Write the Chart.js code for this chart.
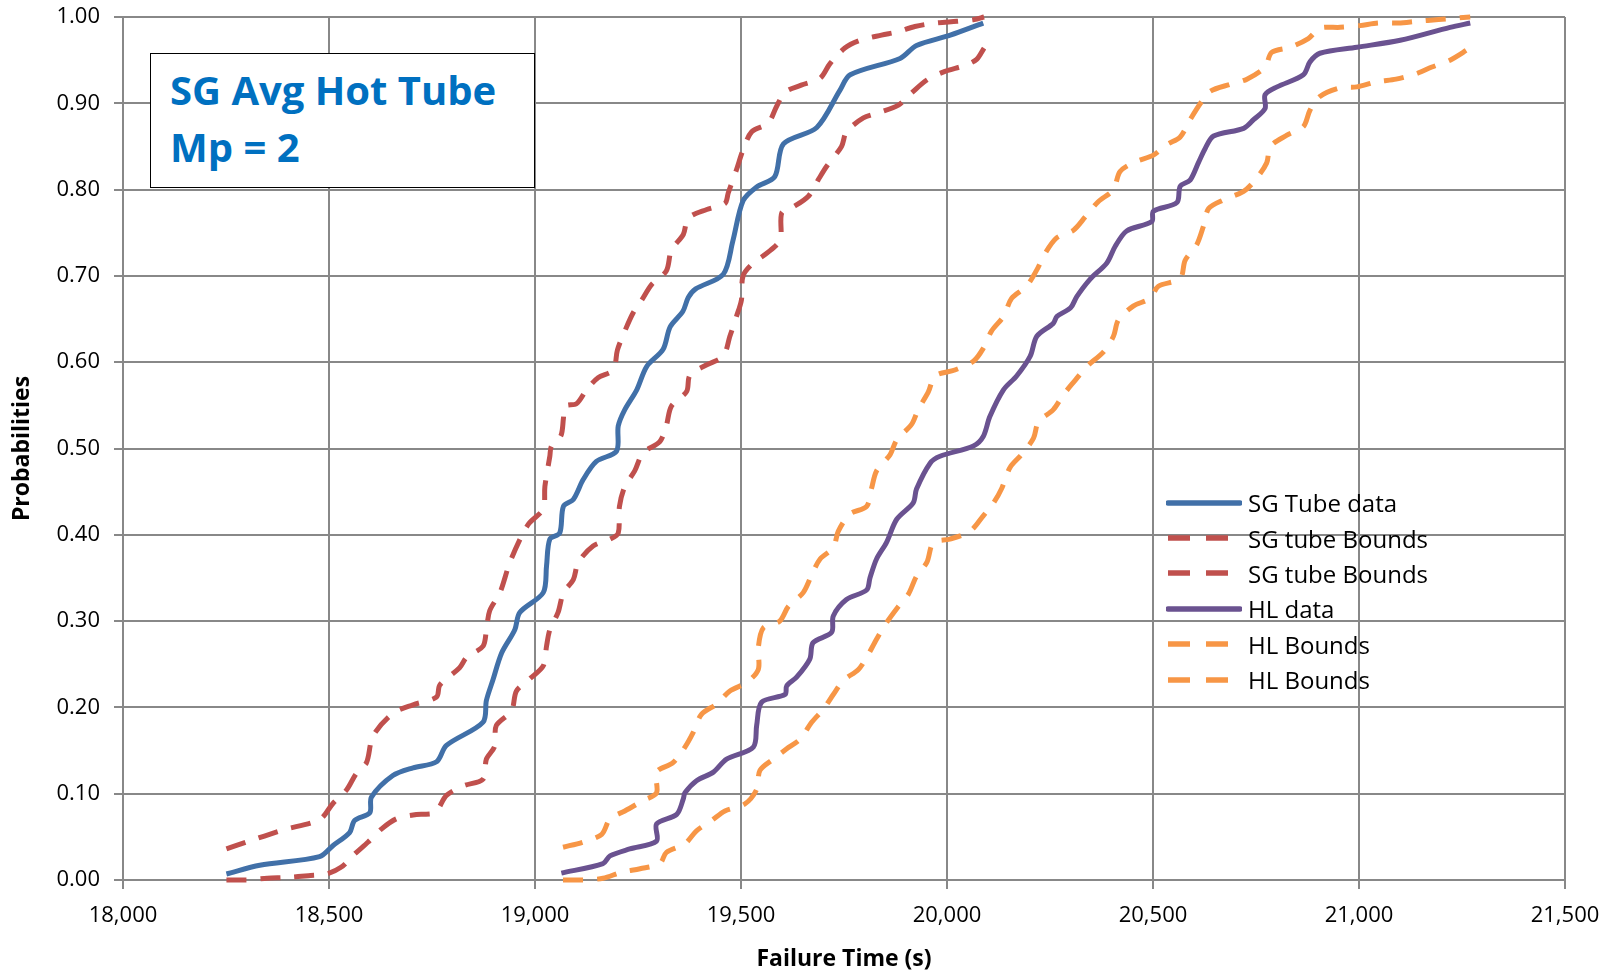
<!DOCTYPE html>
<html>
<head>
<meta charset="utf-8">
<script src="https://cdn.jsdelivr.net/npm/chart.js@4.4.1/dist/chart.umd.min.js"></script>
<style>
  html, body { margin:0; padding:0; background:#fff; }
  #wrap { position:relative; width:1612px; height:971px; overflow:hidden; }
  #c { position:absolute; left:0; top:0; }
  #titleBox { position:absolute; left:150px; top:53px; border:1.6px solid #000; background:#fff;
    font-family:"Open Sans", sans-serif; font-weight:bold; font-size:40px; line-height:57px; color:#0070C0; padding:7px 0 0 19px; box-sizing:border-box; width:385px; height:135px; }
  #legend { position:absolute; left:1166px; top:485px; font-family:"Open Sans", sans-serif; font-size:24px; color:#000; }
  .row { display:flex; align-items:center; height:35.4px; }
  .row svg { width:76px; height:10px; margin-right:6px; }
</style>
</head>
<body>
<div id="wrap">
  <canvas id="c" width="1612" height="971"></canvas>
  <div id="titleBox"><div>SG Avg Hot Tube</div><div>Mp = 2</div></div>
  <div id="legend"></div>
</div>
<script>
// ---- Data ----
const sgDataX = [18251,18332,18477,18510,18550,18562,18599,18603,18655,18704,18761,18785,18874,18882,18898,18919,18951,18963,19020,19028,19036,19060,19069,19093,19117,19149,19198,19202,19218,19247,19271,19311,19328,19359,19372,19390,19457,19480,19505,19538,19582,19603,19684,19740,19765,19886,19926,20008,20088];
const sgDataY = [0.007,0.017,0.027,0.040,0.055,0.069,0.078,0.096,0.121,0.130,0.137,0.156,0.183,0.208,0.232,0.263,0.290,0.310,0.333,0.364,0.395,0.402,0.433,0.441,0.464,0.485,0.497,0.526,0.545,0.568,0.595,0.615,0.641,0.659,0.675,0.685,0.702,0.740,0.787,0.803,0.815,0.853,0.872,0.915,0.933,0.952,0.967,0.979,0.993];

const sgUpperX = [18251,18300,18388,18477,18510,18542,18567,18591,18607,18655,18704,18761,18769,18817,18834,18874,18882,18890,18915,18939,18971,18987,19020,19024,19036,19040,19063,19069,19073,19101,19125,19153,19190,19200,19218,19238,19259,19283,19319,19331,19360,19372,19417,19461,19469,19489,19505,19526,19566,19586,19607,19646,19692,19716,19752,19789,19841,19882,19922,19971,20024,20066,20090];
const sgUpperY = [0.036,0.044,0.058,0.070,0.089,0.104,0.124,0.136,0.167,0.193,0.203,0.212,0.226,0.246,0.258,0.271,0.290,0.312,0.333,0.368,0.402,0.414,0.430,0.456,0.491,0.503,0.515,0.535,0.549,0.552,0.568,0.582,0.591,0.614,0.636,0.657,0.672,0.690,0.706,0.730,0.748,0.767,0.777,0.784,0.796,0.823,0.846,0.867,0.877,0.896,0.913,0.921,0.929,0.946,0.964,0.973,0.979,0.983,0.989,0.993,0.995,0.997,1.000];

const sgLowerX = [18251,18300,18350,18400,18450,18494,18530,18562,18595,18627,18664,18712,18757,18785,18826,18874,18882,18902,18906,18943,18955,18987,19020,19028,19036,19056,19069,19093,19105,19141,19182,19202,19205,19218,19242,19262,19303,19319,19331,19368,19376,19417,19457,19473,19489,19501,19505,19530,19562,19595,19599,19627,19663,19687,19708,19744,19756,19797,19833,19882,19914,19951,19995,20044,20072,20090];
const sgLowerY = [0,0,0.002,0.003,0.005,0.007,0.015,0.030,0.044,0.059,0.071,0.076,0.078,0.098,0.109,0.117,0.140,0.155,0.179,0.196,0.219,0.233,0.248,0.271,0.290,0.310,0.333,0.348,0.368,0.387,0.395,0.402,0.433,0.456,0.474,0.495,0.508,0.527,0.549,0.566,0.585,0.597,0.607,0.630,0.653,0.672,0.700,0.715,0.726,0.742,0.773,0.780,0.792,0.811,0.827,0.850,0.867,0.883,0.889,0.898,0.912,0.927,0.937,0.944,0.951,0.964];

const hlDataX = [19064,19165,19182,19230,19295,19295,19344,19360,19364,19392,19433,19465,19530,19538,19550,19607,19611,19635,19667,19675,19720,19724,19756,19805,19813,19829,19853,19878,19918,19926,19959,19983,20064,20088,20104,20137,20169,20202,20218,20258,20267,20300,20315,20347,20388,20408,20436,20497,20501,20558,20566,20590,20610,20627,20647,20720,20744,20772,20772,20801,20865,20881,20905,20995,21100,21221,21270];
const hlDataY = [0.008,0.019,0.028,0.036,0.045,0.065,0.076,0.094,0.101,0.115,0.125,0.140,0.154,0.179,0.206,0.215,0.225,0.235,0.256,0.275,0.287,0.306,0.325,0.336,0.350,0.372,0.391,0.418,0.437,0.453,0.483,0.491,0.503,0.514,0.537,0.568,0.584,0.607,0.630,0.645,0.653,0.663,0.676,0.696,0.715,0.734,0.752,0.763,0.775,0.785,0.804,0.811,0.831,0.848,0.862,0.871,0.881,0.894,0.910,0.919,0.933,0.948,0.958,0.965,0.973,0.988,0.993];

const hlUpperX = [19068,19117,19162,19182,19218,19262,19295,19295,19335,19364,19384,19404,19441,19473,19514,19542,19542,19554,19594,19615,19651,19672,19692,19724,19736,19764,19805,19817,19829,19862,19878,19914,19930,19955,19971,20019,20064,20088,20108,20137,20157,20193,20218,20238,20266,20307,20335,20367,20404,20420,20456,20501,20533,20566,20590,20618,20639,20687,20728,20772,20788,20833,20877,20905,20954,21002,21047,21096,21141,21193,21270];
const hlUpperY = [0.038,0.044,0.053,0.071,0.080,0.092,0.101,0.125,0.136,0.154,0.171,0.192,0.204,0.219,0.229,0.244,0.269,0.292,0.300,0.317,0.333,0.354,0.372,0.385,0.404,0.424,0.433,0.454,0.474,0.493,0.510,0.528,0.545,0.566,0.584,0.591,0.601,0.616,0.636,0.653,0.674,0.688,0.707,0.726,0.744,0.753,0.768,0.786,0.800,0.821,0.832,0.840,0.852,0.861,0.881,0.902,0.914,0.922,0.928,0.942,0.959,0.965,0.975,0.987,0.988,0.990,0.993,0.993,0.995,0.997,1.000];

const hlLowerX = [19068,19117,19165,19210,19255,19303,19319,19364,19392,19429,19461,19509,19538,19546,19578,19611,19643,19672,19700,19724,19748,19785,19805,19829,19850,19882,19906,19926,19951,19967,20007,20056,20088,20113,20133,20153,20181,20210,20222,20258,20282,20311,20339,20380,20404,20416,20452,20493,20513,20566,20578,20606,20622,20635,20671,20720,20748,20776,20785,20825,20865,20881,20905,20954,20995,21043,21090,21138,21177,21221,21266];
const hlLowerY = [0,0,0.002,0.009,0.013,0.019,0.032,0.042,0.057,0.069,0.080,0.088,0.105,0.127,0.140,0.152,0.163,0.183,0.198,0.215,0.231,0.244,0.258,0.279,0.296,0.317,0.331,0.352,0.368,0.391,0.395,0.404,0.422,0.437,0.454,0.478,0.493,0.512,0.531,0.545,0.562,0.579,0.595,0.612,0.630,0.649,0.665,0.674,0.688,0.697,0.718,0.736,0.757,0.778,0.788,0.798,0.811,0.831,0.850,0.863,0.873,0.892,0.908,0.918,0.919,0.925,0.928,0.934,0.942,0.950,0.963];

const seriesLabels = ['SG Tube data','SG tube Bounds','SG tube Bounds','HL data','HL Bounds','HL Bounds'];
const xTickMin = 18000, xTickMax = 21500, xTickStep = 500;
const yTickMin = 0, yTickMax = 1, yTickStep = 0.1;
const xAxisTitle = 'Failure Time (s)';
const yAxisTitle = 'Probabilities';

// ---- Build datasets ----
function pts(xs, ys) { return xs.map((x, i) => ({ x: x, y: ys[i] })); }
const BLUE = '#4170A8', RED = '#C0504D', PURPLE = '#6A5290', ORANGE = '#F79646';
const DASH = [20, 14];
const specs = [
  { xs: sgDataX,  ys: sgDataY,  color: BLUE,   dash: [] },
  { xs: sgUpperX, ys: sgUpperY, color: RED,    dash: DASH },
  { xs: sgLowerX, ys: sgLowerY, color: RED,    dash: DASH },
  { xs: hlDataX,  ys: hlDataY,  color: PURPLE, dash: [] },
  { xs: hlUpperX, ys: hlUpperY, color: ORANGE, dash: DASH },
  { xs: hlLowerX, ys: hlLowerY, color: ORANGE, dash: DASH }
];
const datasets = specs.map((s, i) => ({
  label: seriesLabels[i],
  data: pts(s.xs, s.ys),
  borderColor: s.color,
  backgroundColor: s.color,
  borderWidth: 5,
  borderDash: s.dash,
  borderCapStyle: 'butt',
  borderJoinStyle: 'round',
  pointRadius: 0,
  tension: 0.3,
  fill: false,
  clip: false
}));

const GRID = '#888888';
const tickFont = { family: 'Open Sans', size: 22 };
const titleFont = { family: 'Open Sans', size: 23, weight: 'bold', lineHeight: 1 };

new Chart(document.getElementById('c'), {
  type: 'line',
  data: { datasets: datasets },
  options: {
    responsive: false,
    animation: false,
    devicePixelRatio: 1,
    layout: { padding: { top: 17, right: 47, left: 0, bottom: 0 } },
    plugins: { legend: { display: false }, tooltip: { enabled: false } },
    scales: {
      x: {
        type: 'linear', min: xTickMin, max: xTickMax,
        ticks: { stepSize: xTickStep, color: '#000', font: tickFont, padding: 14, maxRotation: 0,
          callback: v => v.toLocaleString('en-US') },
        grid: { color: GRID, lineWidth: 2, tickLength: 9, drawTicks: true },
        border: { color: GRID, width: 2 },
        title: { display: true, text: xAxisTitle, color: '#000', font: titleFont, padding: { top: 0, bottom: 0 } },
        afterFit: s => { s.height = 91; s.paddingLeft = 0; s.paddingRight = 0; }
      },
      y: {
        type: 'linear', min: yTickMin, max: yTickMax,
        ticks: { stepSize: yTickStep, color: '#000', font: tickFont, padding: 14,
          callback: v => v.toFixed(2) },
        grid: { color: GRID, lineWidth: 2, tickLength: 9, drawTicks: true },
        border: { color: GRID, width: 2 },
        title: { display: true, text: yAxisTitle, color: '#000', font: titleFont, padding: { top: 11, bottom: 0 } },
        afterFit: s => { s.width = 123; s.paddingTop = 0; s.paddingBottom = 0; }
      }
    }
  }
});

// ---- HTML legend built from the datasets ----
const legend = document.getElementById('legend');
datasets.forEach(ds => {
  const row = document.createElement('div');
  row.className = 'row';
  const dashAttr = ds.borderDash.length ? ` stroke-dasharray="22 16"` : '';
  const cap = ds.borderDash.length ? 'butt' : 'round';
  row.innerHTML = `<svg viewBox="0 0 76 10"><line x1="2" y1="5" x2="74" y2="5" stroke="${ds.borderColor}" stroke-width="5.5" stroke-linecap="${cap}"${dashAttr}/></svg><span>${ds.label}</span>`;
  legend.appendChild(row);
});
</script>
</body>
</html>
